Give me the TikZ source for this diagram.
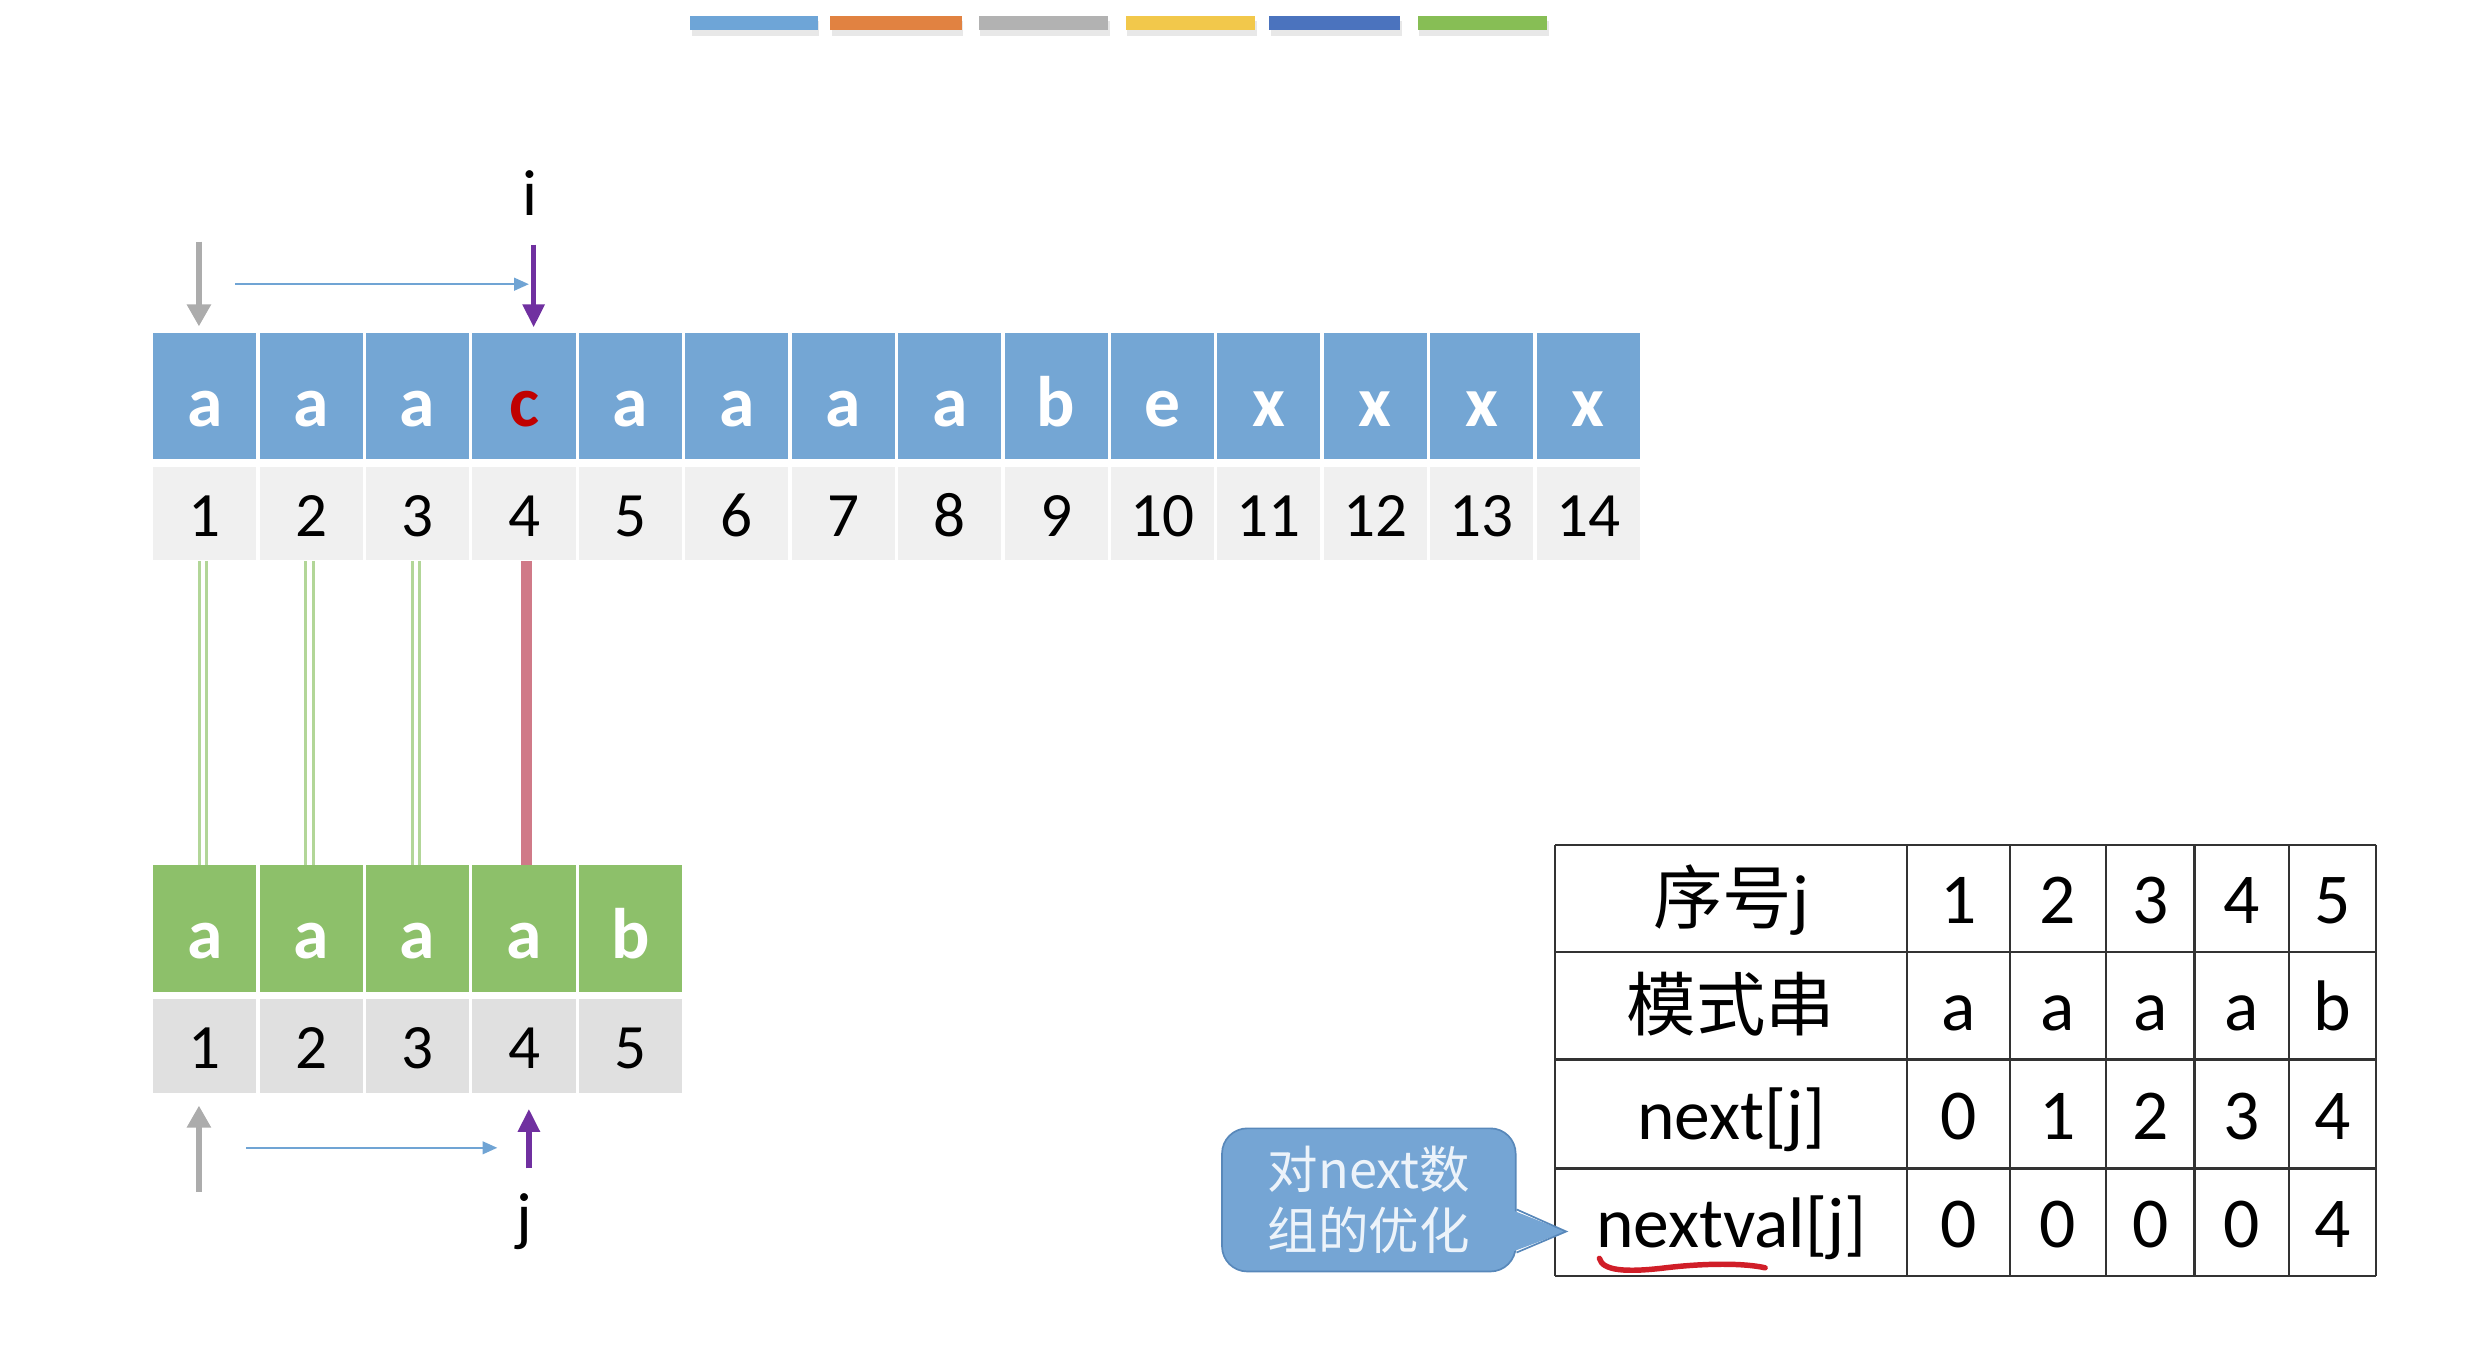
\documentclass[tikz,border=0pt]{standalone}
\usepackage{fontspec}
\setmainfont{Carlito}
\newfontfamily\cjk{Noto Sans CJK SC}
\usepackage{xcolor}
\usepackage{tikz}
\usetikzlibrary{positioning,arrows.meta}
\definecolor{maincolor}{RGB}{116,166,212}
\definecolor{patcolor}{RGB}{141,192,106}
\definecolor{idxlight}{RGB}{240,240,240}
\definecolor{idxdark}{RGB}{224,224,224}
\definecolor{misscolor}{RGB}{192,0,0}
\definecolor{ptrpurple}{RGB}{112,48,160}
\definecolor{ptrgray}{RGB}{172,172,172}
\definecolor{shiftblue}{RGB}{112,164,212}
\definecolor{matchgreen}{RGB}{178,214,152}
\definecolor{failred}{RGB}{208,122,136}
\definecolor{tipblue}{RGB}{117,165,212}
\definecolor{tipedge}{RGB}{88,136,186}
\definecolor{tiptext}{RGB}{236,243,250}
\definecolor{penred}{RGB}{208,30,40}
\definecolor{barblue}{RGB}{110,165,215}
\definecolor{barorange}{RGB}{225,130,65}
\definecolor{bargray}{RGB}{178,178,178}
\definecolor{baryellow}{RGB}{242,200,75}
\definecolor{bardarkblue}{RGB}{75,115,190}
\definecolor{bargreen}{RGB}{135,190,85}

\tikzset{
  charcell/.style={rectangle, inner sep=0pt, minimum width=49pt, minimum height=60pt,
    text height=28.5pt, text depth=0pt, font=\fontsize{34}{40}\selectfont\bfseries},
  maincell/.style={charcell, fill=maincolor},
  patcell/.style={charcell, fill=patcolor, text=white},
  idxcell/.style={rectangle, inner sep=0pt, minimum width=49pt, minimum height=44.25pt,
    text height=21.75pt, text depth=0pt, font=\fontsize{30}{36}\selectfont},
  ptrlabel/.style={inner sep=0pt, font=\fontsize{31}{36}\selectfont},
  grayptr/.style={draw=ptrgray, line width=3pt, -{Triangle[length=10.5pt,width=11pt]}},
  purpleptr/.style={draw=ptrpurple, line width=2.7pt, -{Triangle[length=11pt,width=10pt]}},
  shiftarrow/.style={draw=shiftblue, line width=1pt, -{Triangle[length=7pt,width=6pt]}},
  matchline/.style={draw=matchgreen, line width=1.5pt, double=white, double distance=2pt},
  failline/.style={draw=failred, line width=5.25pt},
  tabline/.style={draw=black!80, line width=1.1pt},
  tabtext/.style={inner sep=0pt, text height=24pt, text depth=0pt, font=\fontsize{34}{40}\selectfont},
  tabcjk/.style={tabtext, font=\fontsize{33}{40}\selectfont},
  tipbox/.style={rectangle, rounded corners=12pt, fill=tipblue, draw=tipedge, line width=0.8pt,
    minimum width=139.5pt, minimum height=68pt, inner sep=0pt, align=center, text=tiptext,
    font=\cjk\fontsize{24}{29}\selectfont},
}

\begin{document}
\begin{tikzpicture}[x=0.75pt,y=0.75pt,yscale=-1,xscale=1]
\useasboundingbox (0,0) rectangle (1567,858);

% colour bars on top
\foreach \xa/\xb/\col in {437/518/barblue, 526/609/barorange, 620/702/bargray, 713/795/baryellow, 804/887/bardarkblue, 898/980/bargreen}{
  \fill[black!9] (\xa+1,13) rectangle (\xb+1,23);
  \fill[\col] (\xa,10) rectangle (\xb,19);
}

% main string
\foreach \ch/\col [count=\k] in {a/white,a/white,a/white,c/misscolor,a/white,a/white,a/white,a/white,b/white,e/white,x/white,x/white,x/white,x/white}{
  \node[maincell, text=\col] (t\k) at ({129.7+67.4*(\k-1)},251) {\ch};
  \node[idxcell, fill=idxlight] (n\k) at ({129.7+67.4*(\k-1)},325.5) {\k};
}

% pattern string
\foreach \ch [count=\k] in {a,a,a,a,b}{
  \node[patcell] (p\k) at ({129.7+67.4*(\k-1)},588) {\ch};
  \node[idxcell, fill=idxdark] (q\k) at ({129.7+67.4*(\k-1)},662.5) {\k};
}

% compare lines
\foreach \k in {1,2,3}{
  \draw[matchline] ([xshift=-0.8pt]n\k.south) -- ([xshift=-0.8pt]p\k.north);
}
\draw[failline] ([xshift=1.2pt]n4.south) -- ([xshift=1.2pt]p4.north);

% pointer i  (yscale=-1: positive yshift goes down)
\node[ptrlabel] (ilab) at (336,122) {i};
\coordinate (itop) at (338,155);
\draw[purpleptr] (itop) -- ([yshift=-2.5pt]itop |- t4.north);
\coordinate (gtop) at (126,153);
\draw[grayptr] (gtop) -- ([yshift=-3pt]gtop |- t1.north);
\coordinate (sa) at (149,180);
\coordinate (sb) at (335,180);
\draw[shiftarrow] (sa) -- (sb);

% pointer j
\coordinate (gbot) at (126,755);
\draw[grayptr] (gbot) -- ([yshift=6pt]gbot |- q1.south);
\coordinate (jbot) at (335,740);
\draw[purpleptr] (jbot) -- ([yshift=7.5pt]jbot |- q4.south);
\coordinate (sc) at (156,727);
\coordinate (sd) at (315,727);
\draw[shiftarrow] (sc) -- (sd);
\node[ptrlabel] (jlab) at (332,774) {j};

% table
\foreach \y in {535,603,671,740,808}
  \draw[tabline] (985,\y) -- (1505,\y);
\foreach \x in {985,1208,1273,1334,1390,1450,1505}
  \draw[tabline] (\x,535) -- (\x,808);
\node[tabcjk] (lab1) at (1096.5,569) {{\cjk 序号}j};
\node[tabcjk] (lab2) at (1096.5,637) {\cjk 模式串};
\node[tabtext] (lab3) at (1096.5,705.5) {next[j]};
\node[tabtext] (lab4) at (1096.5,774) {nextval[j]};
\foreach \cx/\sj/\pj/\nj/\vj [count=\c] in {1240.5/1/a/0/0, 1303.5/2/a/1/0, 1362/3/a/2/0, 1420/4/a/3/0, 1477.5/5/b/4/4}{
  \node[tabtext] (s\c) at (\cx,569) {\sj};
  \node[tabtext] (m\c) at (\cx,637) {\pj};
  \node[tabtext] (x\c) at (\cx,705.5) {\nj};
  \node[tabtext] (w\c) at (\cx,774) {\vj};
}

% callout
\node[tipbox] (tip) at (867,760) {对next数\\组的优化};
\coordinate (tipend) at (992,780);
\fill[tipblue] ([xshift=-3pt,yshift=4.5pt]tip.east) -- (tipend) -- ([xshift=-3pt,yshift=25pt]tip.east) -- cycle;
\draw[tipedge, line width=0.8pt] ([yshift=4.5pt]tip.east) -- (tipend) -- ([yshift=25pt]tip.east);

% underline
\draw[penred, line width=2.6pt, line cap=round] (1013,797) .. controls (1015,805) and (1030,806) .. (1055,803) .. controls (1080,800) and (1105,800) .. (1118,803);

\end{tikzpicture}
\end{document}
